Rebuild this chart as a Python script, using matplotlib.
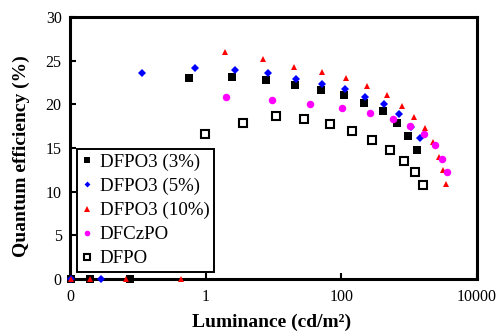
import matplotlib
matplotlib.use("Agg")
import matplotlib.pyplot as plt
from matplotlib.ticker import FixedLocator, FixedFormatter, NullLocator

plt.rcParams['font.family'] = ['Liberation Serif', 'DejaVu Serif']

# DFPO3 (3%)
x_3 = [0.0102, 0.0198, 0.077, 0.56, 2.43, 7.7, 20.8, 50.6, 111, 219, 405, 653, 951, 1291]
y_3 = [0, 0, 0, 23.0, 23.1, 22.8, 22.2, 21.6, 21.1, 20.2, 19.2, 17.9, 16.4, 14.8]
# DFPO3 (5%)
x_5 = [0.0102, 0.029, 0.117, 0.69, 2.69, 8.3, 21.5, 52, 115, 227, 419, 699, 1052, 1431]
y_5 = [0, 0, 23.6, 24.2, 23.9, 23.6, 22.9, 22.3, 21.8, 20.8, 20.0, 18.9, 17.4, 16.1]
# DFPO3 (10%)
x_10 = [0.0102, 0.0198, 0.067, 0.43, 1.91, 7.0, 20.1, 52, 119, 243, 464, 774, 1166, 1698,
        2230, 2735, 3134, 3473]
y_10 = [0, 0, 0, 0, 26.0, 25.2, 24.3, 23.7, 23.0, 22.1, 21.1, 19.8, 18.6, 17.3,
        15.7, 14.0, 12.5, 10.9]
# DFCzPO
x_cz = [1.98, 9.5, 34.7, 103, 269, 570, 1016, 1640, 2387, 3030, 3593]
y_cz = [20.8, 20.5, 20.0, 19.6, 19.0, 18.3, 17.5, 16.6, 15.3, 13.7, 12.3]
# DFPO
x_po = [0.97, 3.53, 10.9, 28.3, 68.7, 146, 288, 514, 829, 1206, 1585]
y_po = [16.6, 17.9, 18.7, 18.3, 17.7, 16.9, 15.9, 14.8, 13.5, 12.3, 10.8]

x_ticks = [0.01, 1, 100, 10000]
x_tick_labels = ["0", "1", "100", "10000"]
y_ticks = [0, 5, 10, 15, 20, 25, 30]

fig = plt.figure(figsize=(4.98, 3.32), dpi=100)
ax = fig.add_axes([70/498, (332-279)/332, 407/498, 262/332])
ax.set_xscale('log')

ax.plot(x_3, y_3, 's', color='black', ms=5.6, mew=0, clip_on=False, label='DFPO3 (3%)', zorder=3)
ax.plot(x_5, y_5, 'D', color='#0000FF', ms=4.0, mew=0, clip_on=False, label='DFPO3 (5%)', zorder=4)
ax.plot(x_10, y_10, '^', color='#FF0000', ms=5.0, mew=0, clip_on=False, label='DFPO3 (10%)', zorder=5)
ax.plot(x_cz, y_cz, 'o', color='#FF00FF', ms=5.4, mew=0, clip_on=False, label='DFCzPO', zorder=6)
ax.plot(x_po, y_po, 's', mfc='white', mec='black', ms=5.4, mew=1.5, clip_on=False, label='DFPO', zorder=2)

ax.set_xlim(0.01, 10000)
ax.set_ylim(0, 30)
ax.xaxis.set_major_locator(FixedLocator(x_ticks))
ax.xaxis.set_major_formatter(FixedFormatter(x_tick_labels))
ax.xaxis.set_minor_locator(NullLocator())
ax.set_yticks(y_ticks)

for s in ax.spines.values():
    s.set_linewidth(2.2)
ax.tick_params(axis='both', direction='in', length=4, width=1.5, labelsize=11.5, color='black')
ax.tick_params(axis='x', pad=7)
ax.tick_params(axis='y', pad=6)

ax.set_xlabel('Luminance (cd/m²)', fontsize=14, fontweight='bold', va='center')
ax.set_ylabel('Quantum efficiency (%)', fontsize=14, fontweight='bold', va='center')
ax.xaxis.set_label_coords(0.496, -0.164)
ax.yaxis.set_label_coords(-0.120, 0.4676)

leg = ax.legend(loc='lower left', bbox_to_anchor=(7/407, 7/262), borderaxespad=0,
                fontsize=13.6, frameon=True, fancybox=False, edgecolor='black', framealpha=1,
                handlelength=0.6, handletextpad=0.35, labelspacing=0.36, borderpad=0.25,
                markerscale=0.75)
leg.get_frame().set_linewidth(1.4)
leg.set_zorder(1)

fig.savefig('out.png', dpi=100)
